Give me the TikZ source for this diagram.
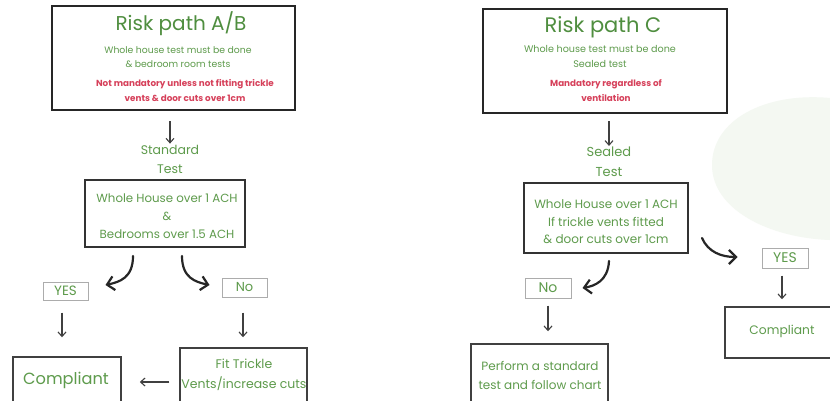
\documentclass[tikz,border=0pt]{standalone}
\usepackage{fontspec}
\setmainfont{Poppins}
\usetikzlibrary{arrows.meta}
\definecolor{tgreen}{HTML}{5E9B4C}
\definecolor{ttitle}{HTML}{4F8E3F}
\definecolor{tred}{HTML}{D6405A}
\definecolor{wmark}{HTML}{F4F8F2}
\tikzset{
  fs/.style 2 args={font=\fontsize{#1}{#2}\selectfont},
  txt/.style={text=tgreen, align=center, inner sep=0pt},
  titletxt/.style={text=ttitle, inner sep=0pt, fs={20}{24}},
  redtxt/.style={text=tred, align=center, inner sep=0pt, font=\fontsize{8.8}{15}\selectfont\bfseries},
  bigbox/.style={draw=black!85, line width=2.6pt, fill=white, inner sep=0pt},
  midbox/.style={draw=black!80, line width=2pt, fill=white, inner sep=0pt},
  smallbox/.style={draw=gray!65, line width=1pt, fill=white, inner sep=0pt},
  botbox/.style={draw=black!75, line width=1.5pt, fill=white, inner sep=0pt},
  arr/.style={draw=black!75, line width=1.1pt, -{Straight Barb[length=4.5pt,width=8pt]}},
  carr/.style={draw=black!85, line width=2.2pt, line cap=round, -{Straight Barb[length=7pt,width=14pt]}},
}
\begin{document}
\begin{tikzpicture}[x=1pt,y=-1pt]
\useasboundingbox (0,0) rectangle (830,401);
\clip (0,0) rectangle (830,401);
\fill[white] (0,0) rectangle (830,401);
% faint watermark
\fill[wmark] (830,98) .. controls (765,92) and (712,120) .. (712,165)
  .. controls (712,210) and (770,238) .. (830,240) -- cycle;

% ---------------- Left: Risk path A/B ----------------
\node[bigbox, minimum width=243pt, minimum height=104pt] (topAB) at (173.5,58) {};
\node[titletxt] (tAB) at (181,24) {Risk path A/B};
\node[txt, fs={9.3}{14}] (bAB) at (178,57) {Whole house test must be done\\\& bedroom room tests};
\node[redtxt] (rAB) at (185,91) {Not mandatory unless not fitting trickle\\vents \& door cuts over 1cm};

\node[txt, fs={12.5}{19}] (stdAB) at (170,159) {Standard\\Test};

\node[midbox, minimum width=160pt, minimum height=67pt] (midAB) at (165,213.5) {};
\node[txt, fs={11.8}{18}] (mAB) at (167,216) {Whole House over 1 ACH\\\&\\Bedrooms over 1.5 ACH};

\node[smallbox, minimum width=45pt, minimum height=18pt, txt, fs={13.5}{16}] (yesAB) at (65.5,291) {YES};
\node[smallbox, minimum width=45pt, minimum height=19pt, txt, fs={13}{16}] (noAB) at (244.5,287.5) {No};

\node[botbox, minimum width=108pt, minimum height=60pt] (compAB) at (67,387) {};
\node[txt, fs={16.2}{20}] (cAB) at (66,380) {Compliant};
\node[botbox, minimum width=127pt, minimum height=66pt] (fitAB) at (243.5,381) {};
\node[txt, fs={12.5}{20}] (fAB) at (244,375) {Fit Trickle\\Vents/increase cuts};

\draw[arr, shorten <=10pt, shorten >=1pt] (topAB.south -| stdAB) -- (stdAB.north);
\draw[carr] ([xshift=-32pt,yshift=-8pt]midAB.south) .. controls +(0,22) and +(14,-3) .. ([xshift=17pt,yshift=6pt]yesAB.east);
\draw[carr] ([xshift=17pt,yshift=-8pt]midAB.south) .. controls +(0,22) and +(-14,-3) .. ([xshift=-12pt,yshift=2.5pt]noAB.west);
\draw[arr, shorten <=12pt, shorten >=19pt] ([xshift=-3.5pt]yesAB.south) -- ([xshift=-3.5pt]yesAB.south |- compAB.north);
\draw[arr, shorten <=15pt, shorten >=10pt] ([xshift=-1.5pt]noAB.south) -- ([xshift=-1.5pt]noAB.south |- fitAB.north);
\draw[arr, shorten <=10pt, shorten >=18pt] ([yshift=-1pt]fitAB.west) -- ([yshift=-1pt]fitAB.west -| compAB.east);

% ---------------- Right: Risk path C ----------------
\node[bigbox, minimum width=244pt, minimum height=104pt] (topC) at (605,61) {};
\node[titletxt, fs={21}{24}] (tC) at (603,27) {Risk path C};
\node[txt, fs={9.6}{15}] (bC) at (600,56) {Whole house test must be done\\Sealed test};
\node[redtxt] (rC) at (606,91) {Mandatory regardless of\\ventilation};

\node[txt, fs={13}{20}] (sC) at (609,162) {Sealed\\Test};

\node[midbox, minimum width=164pt, minimum height=70pt] (midC) at (606,218) {};
\node[txt, fs={12}{17.5}] (mC) at (606,222) {Whole House over 1 ACH\\If trickle vents fitted\\\& door cuts over 1cm};

\node[smallbox, minimum width=46pt, minimum height=20pt, txt, fs={14}{16}] (noC) at (548,288) {No};
\node[smallbox, minimum width=46pt, minimum height=20pt, txt, fs={14}{16}] (yesC) at (785,258) {YES};

\node[botbox, minimum width=137pt, minimum height=66pt] (perfC) at (539.5,377) {};
\node[txt, fs={12}{19}] (pC) at (540,375) {Perform a standard\\test and follow chart};
\node[botbox, minimum width=112pt, minimum height=51pt] (compC) at (781,332.5) {};
\node[txt, fs={12.3}{15}] (cC) at (782,331) {Compliant};

\draw[arr, shorten <=7pt, shorten >=1pt] (topC.south -| sC) -- (sC.north);
\draw[carr] ([xshift=3pt,yshift=-7pt]midC.south) .. controls +(-1,20) and +(12,-2) .. ([xshift=11pt]noC.east);
\draw[carr] ([xshift=13pt,yshift=-20pt]midC.east) .. controls +(6,14) and +(-16,0) .. ([xshift=-24pt,yshift=1pt]yesC.west);
\draw[arr, shorten <=7pt, shorten >=12pt] (noC.south) -- (noC.south |- perfC.north);
\draw[arr, shorten <=7pt, shorten >=7pt] ([xshift=-3pt]yesC.south) -- ([xshift=-3pt]yesC.south |- compC.north);
\end{tikzpicture}
\end{document}
